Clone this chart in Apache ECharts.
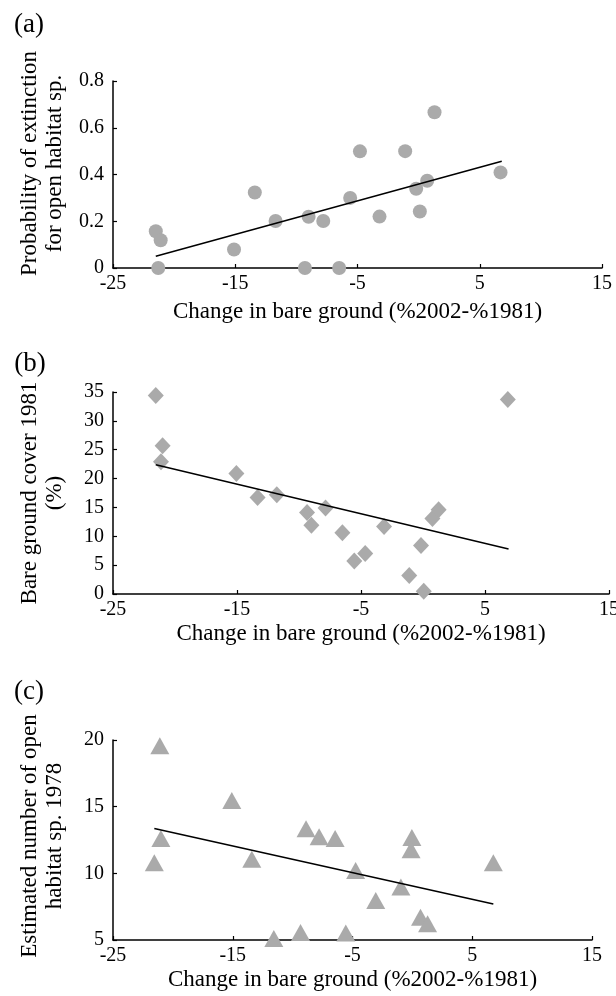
<!DOCTYPE html>
<html>
<head>
<meta charset="utf-8">
<script src="https://cdn.jsdelivr.net/npm/echarts@6/dist/echarts.min.js"></script>
<style>
html,body{margin:0;padding:0;background:#fff;}
#chart{width:616px;height:996px;}
</style>
</head>
<body>
<div id="chart"></div>
<script>
// x-axis ticks shared by all panels
var xTickMin = -25, xTickMax = 15, xTickStep = 10;

// Panel (a): probability of extinction
var xA = [-21.5,-21.1,-21.3,-15.1,-13.4,-11.7,-9.0,-9.3,-7.8,-6.5,-5.6,-4.8,-3.2,-1.1,-0.2,0.1,0.7,1.3,6.7];
var yA = [0.157,0.119,0,0.079,0.323,0.201,0.219,0,0.201,0,0.300,0.499,0.220,0.5,0.339,0.242,0.373,0.666,0.409];
var fitAx = [-21.5, 6.8];
var fitAy = [0.050, 0.457];

// Panel (b): bare ground cover 1981
var xB = [-21.55,-21.0,-21.13,-15.05,-13.34,-11.79,-9.35,-9.0,-7.86,-6.5,-5.54,-4.66,-3.14,-1.11,-0.16,0.06,0.76,1.26,6.84];
var yB = [34.4,25.7,22.9,20.9,16.7,17.2,14.1,11.9,14.9,10.6,5.7,7.0,11.7,3.2,8.4,0.46,13.1,14.6,33.7];
var fitBx = [-21.55, 6.9];
var fitBy = [22.4, 7.8];

// Panel (c): estimated number of open habitat sp. 1978
var xC = [-21.09,-15.08,-21.55,-21.0,-13.41,-11.57,-9.34,-8.88,-7.79,-6.45,-5.56,-4.74,-3.06,-0.96,-0.04,-0.11,0.68,1.27,6.76];
var yC = [19.57,15.46,10.79,12.61,11.06,5.12,5.57,13.34,12.74,12.61,5.52,10.22,7.97,8.97,12.69,11.76,6.70,6.22,10.79];
var fitCx = [-21.55, 6.76];
var fitCy = [13.36, 7.70];

var panelLabels = ['(a)', '(b)', '(c)'];
var xTitle = 'Change in bare ground (%2002-%1981)';
var yTitles = ['Probability of extinction\nfor open habitat sp.', 'Bare ground cover 1981\n(%)', 'Estimated number of open\nhabitat sp. 1978'];
var yRanges = [[0, 0.8, 0.2], [0, 35, 5], [5, 20, 5]];

function pairs(xs, ys) { return xs.map(function (x, i) { return [x, ys[i]]; }); }

var FONT = 'Liberation Serif';
var MARK = '#aaaaaa';

var grids = [
  {left: 113, top: 81, width: 489, height: 187, outerBoundsMode: 'none', containLabel: false},
  {left: 113, top: 392, width: 496, height: 202, outerBoundsMode: 'none', containLabel: false},
  {left: 113, top: 740, width: 479, height: 200, outerBoundsMode: 'none', containLabel: false}
];

var xAxes = grids.map(function (g, i) {
  return {
    type: 'value', gridIndex: i, min: xTickMin, max: xTickMax, interval: xTickStep,
    name: xTitle, nameLocation: 'middle', nameGap: [32, 28, 28][i],
    nameTextStyle: {fontFamily: FONT, fontSize: 23, color: '#000'},
    axisLine: {show: true, onZero: false, lineStyle: {color: '#000', width: 1.5}},
    axisTick: {show: true, inside: true, length: 4, lineStyle: {color: '#000', width: 1.2}},
    axisLabel: {fontFamily: FONT, fontSize: 20, color: '#000', margin: 6},
    splitLine: {show: false}
  };
});

var yNamePad = [[0, 0, 0, 22], [0, 0, 0, 0], [0, 0, 0, 8]];
var yAxes = grids.map(function (g, i) {
  return {
    type: 'value', gridIndex: i, min: yRanges[i][0], max: yRanges[i][1], interval: yRanges[i][2],
    name: yTitles[i], nameLocation: 'middle', nameRotate: 90, nameGap: 45,
    nameTextStyle: {fontFamily: FONT, fontSize: 23, color: '#000', lineHeight: 25.5, padding: yNamePad[i]},
    axisLine: {show: true, onZero: false, lineStyle: {color: '#000', width: 1.5}},
    axisTick: {show: true, inside: true, length: 4, lineStyle: {color: '#000', width: 1.2}},
    axisLabel: {fontFamily: FONT, fontSize: 20, color: '#000', margin: 9},
    splitLine: {show: false}
  };
});

var symbols = ['circle', 'diamond', 'triangle'];
var sizes = [14, [16, 17], [19, 17]];
var datas = [pairs(xA, yA), pairs(xB, yB), pairs(xC, yC)];
var fits = [pairs(fitAx, fitAy), pairs(fitBx, fitBy), pairs(fitCx, fitCy)];

var series = [];
for (var i = 0; i < 3; i++) {
  series.push({
    type: 'scatter', xAxisIndex: i, yAxisIndex: i, data: datas[i],
    symbol: symbols[i], symbolSize: sizes[i],
    itemStyle: {color: MARK, opacity: 1}, z: 3
  });
  series.push({
    type: 'line', xAxisIndex: i, yAxisIndex: i, data: fits[i],
    showSymbol: false, symbol: 'none',
    lineStyle: {color: '#000', width: 1.5}, z: 4
  });
}

var labelPos = [[29, 25], [30, 364], [29, 692]];
var graphics = panelLabels.map(function (t, i) {
  return {
    type: 'text', x: labelPos[i][0], y: labelPos[i][1],
    style: {text: t, font: '27px "Liberation Serif"', fill: '#000', textAlign: 'center', textVerticalAlign: 'middle'}
  };
});

var chart = echarts.init(document.getElementById('chart'), null, {renderer: 'canvas'});
chart.setOption({
  backgroundColor: '#fff',
  animation: false,
  graphic: graphics,
  grid: grids,
  xAxis: xAxes,
  yAxis: yAxes,
  series: series
});
</script>
</body>
</html>
